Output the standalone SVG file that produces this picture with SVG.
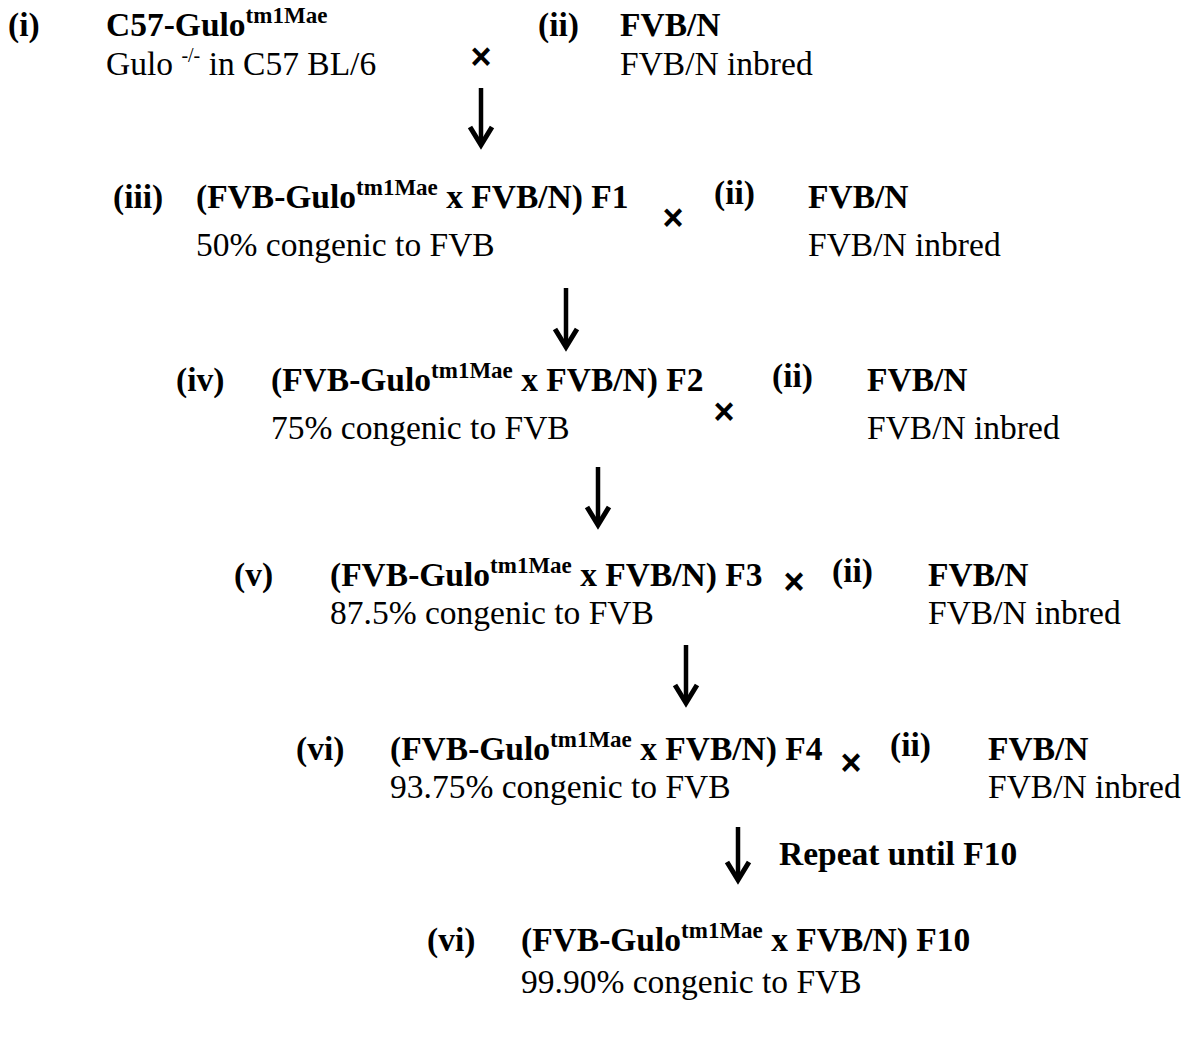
<svg xmlns="http://www.w3.org/2000/svg" width="1184" height="1045" viewBox="0 0 1184 1045">
<defs>
<style>
text{font-family:"Liberation Serif","Times New Roman",serif;font-size:33.5px;fill:#000}
.b{font-weight:bold}
.sup{font-size:23px;font-weight:bold}
.x{font-family:"Liberation Sans",Arial,sans-serif;font-weight:bold;font-size:36px}
.ar{stroke:#000;stroke-width:4.5;fill:none}
.ah{stroke:#000;stroke-width:5;fill:none;stroke-linejoin:miter;stroke-miterlimit:10}
</style>
</defs>
<rect width="1184" height="1045" fill="#fff"/>
<g id="node-i">
<text class="b" x="8" y="36">(i)</text>
<text class="b" x="106" y="36">C57-Gulo<tspan class="sup" dy="-13">tm1Mae</tspan></text>
<text x="106" y="75">Gulo <tspan font-size="20" dy="-13">-/-</tspan><tspan dy="13"> in C57 BL/6</tspan></text>
</g>
<g id="node-ii-1">
<text class="b" x="538" y="36">(ii)</text>
<text class="b" x="620" y="36">FVB/N</text>
<text x="620" y="75">FVB/N inbred</text>
</g>
<g id="node-iii">
<text class="b" x="113" y="208">(iii)</text>
<text class="b" x="196" y="208">(FVB-Gulo<tspan class="sup" dy="-13">tm1Mae</tspan><tspan dy="13"> x FVB/N) F1</tspan></text>
<text x="196" y="256">50% congenic to FVB</text>
</g>
<g id="node-ii-2">
<text class="b" x="714" y="204">(ii)</text>
<text class="b" x="808" y="208">FVB/N</text>
<text x="808" y="256">FVB/N inbred</text>
</g>
<g id="node-iv">
<text class="b" x="176" y="391">(iv)</text>
<text class="b" x="271" y="391">(FVB-Gulo<tspan class="sup" dy="-13">tm1Mae</tspan><tspan dy="13"> x FVB/N) F2</tspan></text>
<text x="271" y="439">75% congenic to FVB</text>
</g>
<g id="node-ii-3">
<text class="b" x="772" y="387">(ii)</text>
<text class="b" x="867" y="391">FVB/N</text>
<text x="867" y="439">FVB/N inbred</text>
</g>
<g id="node-v">
<text class="b" x="234" y="586">(v)</text>
<text class="b" x="330" y="586">(FVB-Gulo<tspan class="sup" dy="-13">tm1Mae</tspan><tspan dy="13"> x FVB/N) F3</tspan></text>
<text x="330" y="624">87.5% congenic to FVB</text>
</g>
<g id="node-ii-4">
<text class="b" x="832" y="582">(ii)</text>
<text class="b" x="928" y="586">FVB/N</text>
<text x="928" y="624">FVB/N inbred</text>
</g>
<g id="node-vi">
<text class="b" x="296" y="760">(vi)</text>
<text class="b" x="390" y="760">(FVB-Gulo<tspan class="sup" dy="-13">tm1Mae</tspan><tspan dy="13"> x FVB/N) F4</tspan></text>
<text x="390" y="798">93.75% congenic to FVB</text>
</g>
<g id="node-ii-5">
<text class="b" x="890" y="756">(ii)</text>
<text class="b" x="988" y="760">FVB/N</text>
<text x="988" y="798">FVB/N inbred</text>
</g>
<g id="node-vi-f10">
<text class="b" x="427" y="951">(vi)</text>
<text class="b" x="521" y="951">(FVB-Gulo<tspan class="sup" dy="-13">tm1Mae</tspan><tspan dy="13"> x FVB/N) F10</tspan></text>
<text x="521" y="993">99.90% congenic to FVB</text>
</g>
<g id="crosses">
<text class="x" x="481" y="69" text-anchor="middle">×</text>
<text class="x" x="673" y="230" text-anchor="middle">×</text>
<text class="x" x="724" y="424" text-anchor="middle">×</text>
<text class="x" x="794" y="594" text-anchor="middle">×</text>
<text class="x" x="851" y="775" text-anchor="middle">×</text>
</g>
<g id="connectors">
<line class="ar" x1="481" y1="88" x2="481" y2="143"/>
<path class="ah" d="M470,127 L481,145 L492,127"/>
<line class="ar" x1="566" y1="288" x2="566" y2="345"/>
<path class="ah" d="M555,329 L566,347 L577,329"/>
<line class="ar" x1="598" y1="467" x2="598" y2="523"/>
<path class="ah" d="M587,507 L598,525 L609,507"/>
<line class="ar" x1="686" y1="645" x2="686" y2="701"/>
<path class="ah" d="M675,685 L686,703 L697,685"/>
<line class="ar" x1="738" y1="827" x2="738" y2="878"/>
<path class="ah" d="M727,862 L738,880 L749,862"/>
<text class="b" x="779" y="865">Repeat until F10</text>
</g>
</svg>
